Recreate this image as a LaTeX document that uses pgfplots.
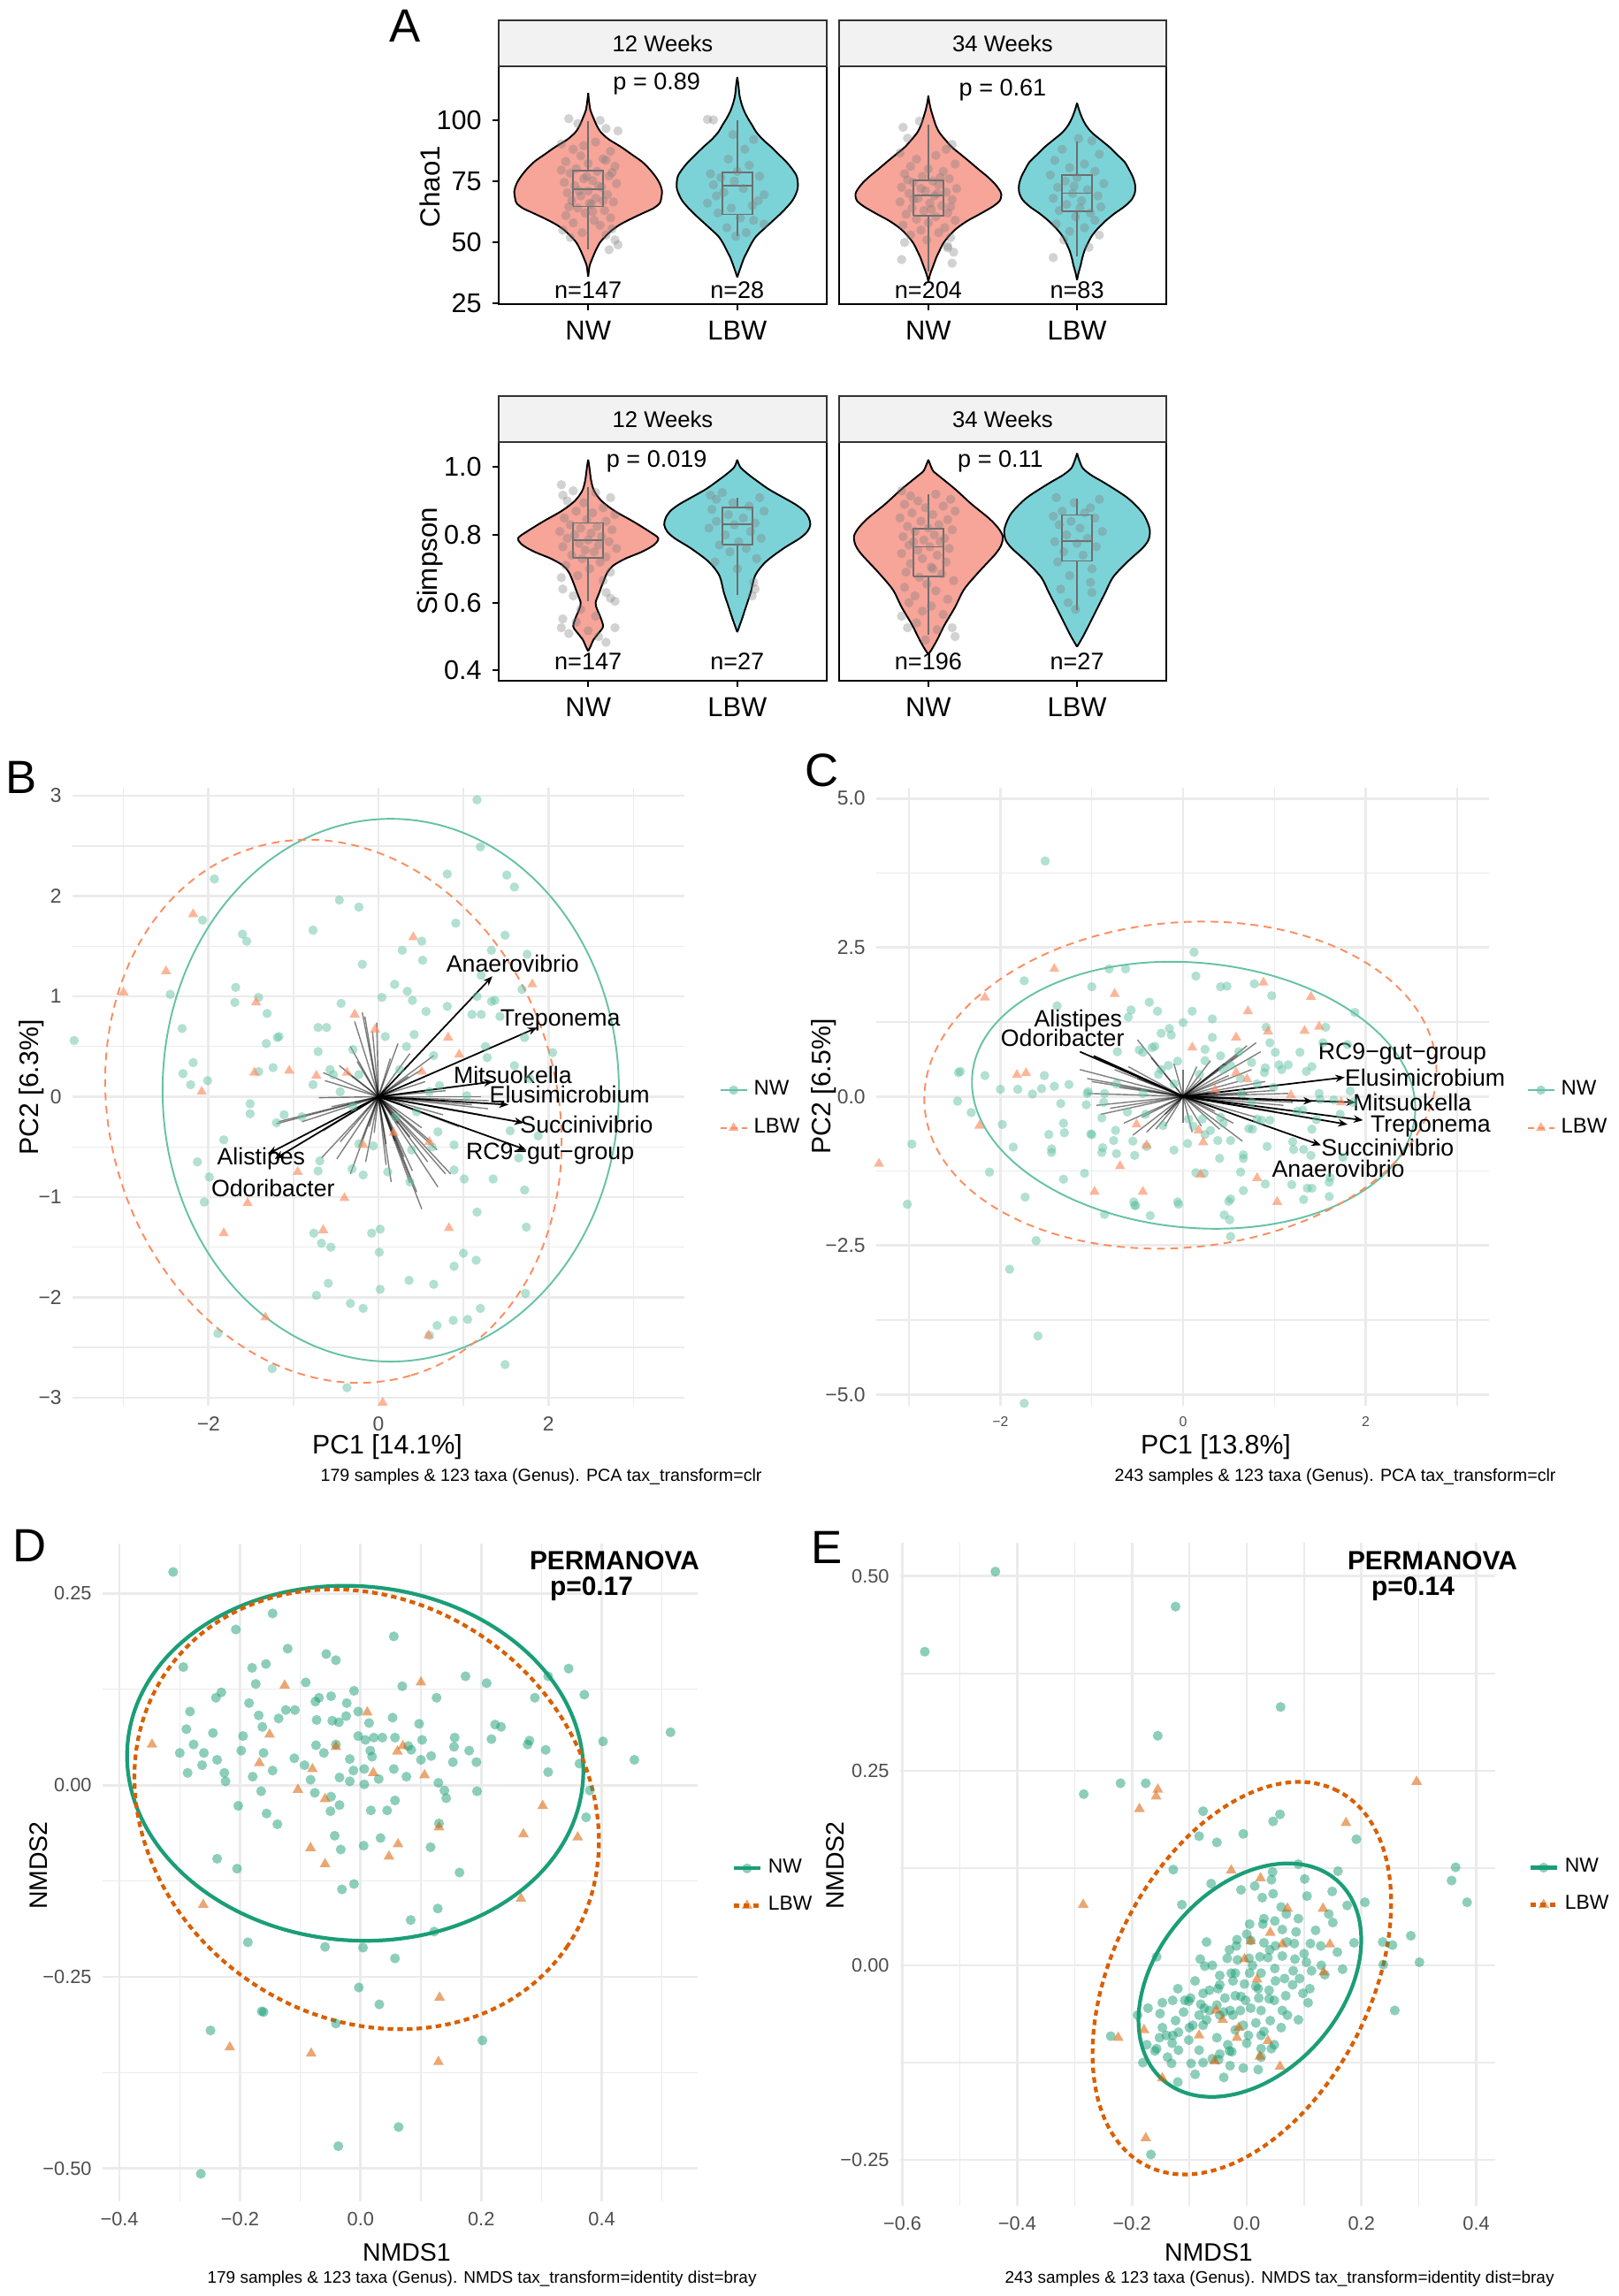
\documentclass[border=0pt]{standalone}
\usepackage{fontspec}
\setmainfont{Liberation Sans}
\usepackage{pgfplots}
\pgfplotsset{compat=1.18}
\usepackage{pgfplotstable}
\usetikzlibrary{arrows.meta}
\newcommand{\fs}[1]{\fontsize{#1}{#1}\selectfont}
\definecolor{nwfill}{RGB}{247,164,153}
\definecolor{lbwfill}{RGB}{124,211,215}
\definecolor{jit}{RGB}{125,125,125}
\definecolor{boxc}{RGB}{110,110,110}
\definecolor{stripc}{RGB}{242,242,242}
\definecolor{sgreen}{HTML}{66C2A5}
\definecolor{sorange}{HTML}{FC8D62}
\definecolor{dgreen}{HTML}{1B9E77}
\definecolor{dorange}{HTML}{D95F02}
\definecolor{gridc}{HTML}{EBEBEB}
\definecolor{tickc}{HTML}{4D4D4D}
\pgfplotsset{
 vio/.style={scale only axis, clip=false, anchor=south west, width=3.71cm, height=2.69cm,
   axis line style={line width=0.7pt}, tick align=outside, major tick length=0.07cm,
   major tick style={black,line width=0.6pt}, xtick pos=lower, ytick pos=left,
   xmin=0.4, xmax=2.6, xtick={1,2}, xticklabels={NW,LBW},
   xticklabel style={font=\fs{8.8}}, yticklabel style={font=\fs{8.7}},
   /pgf/number format/assume math mode=true},
 sc/.style={scale only axis, clip=false, anchor=south west,
   axis line style={draw=none}, tick style={draw=none}, grid=both,
   major grid style={line width=0.8pt, draw=gridc}, minor grid style={line width=0.4pt, draw=gridc},
   tick label style={text=tickc}, /pgf/number format/assume math mode=true,
   legend style={draw=none, fill=none, inner sep=0pt, anchor=west, row sep=2pt, cells={anchor=west}},
   legend image code/.code={\draw[mark repeat=2,mark phase=2,##1] plot coordinates {(0cm,0cm) (0.15cm,0cm) (0.3cm,0cm)};}},
 jitpt/.style={only marks, mark=*, mark size=1.5pt, mark options={fill=jit, fill opacity=0.35, draw opacity=0}, forget plot},
 bnw/.style={only marks, mark=*, mark size=1.5pt, mark options={fill=sgreen, fill opacity=0.5, draw opacity=0}, forget plot},
 blbw/.style={only marks, mark=triangle*, mark size=1.9pt, mark options={fill=sorange, fill opacity=0.65, draw opacity=0}, forget plot},
 dnw/.style={only marks, mark=*, mark size=1.6pt, mark options={fill=dgreen, fill opacity=0.5, draw opacity=0}, forget plot},
 dlbw/.style={only marks, mark=triangle*, mark size=2.0pt, mark options={fill=dorange, fill opacity=0.55, draw opacity=0}, forget plot},
}
\newcommand{\violin}[3]{%
 \addplot[fill=#3, draw=#3, line width=0.4pt, smooth, forget plot] table[x expr=#1+\thisrow{w}, y=v]{#2};
 \addplot[fill=#3, draw=#3, line width=0.4pt, smooth, forget plot] table[x expr=#1-\thisrow{w}, y=v]{#2};
 \addplot[black, line width=0.55pt, smooth, forget plot] table[x expr=#1+\thisrow{w}, y=v]{#2};
 \addplot[black, line width=0.55pt, smooth, forget plot] table[x expr=#1-\thisrow{w}, y=v]{#2};
}
\newcommand{\bx}[8]{%
 \addplot[boxc, line width=0.5pt, forget plot] coordinates {(#1,#5)(#3,#5)(#3,#7)(#1,#7)(#1,#5)};
 \addplot[boxc, line width=0.5pt, forget plot] coordinates {(#1,#6)(#3,#6)};
 \addplot[boxc, line width=0.5pt, forget plot] coordinates {(#2,#4)(#2,#5)};
 \addplot[boxc, line width=0.5pt, forget plot] coordinates {(#2,#7)(#2,#8)};
}
\newcommand{\strip}[1]{%
 \draw[fill=stripc, draw=black!80, line width=0.7pt] (rel axis cs:0,1) rectangle ([yshift=0.52cm]rel axis cs:1,1);
 \node[font=\fs{7.3}] at ([yshift=0.26cm]rel axis cs:0.5,1) {#1};
}
% confidence ellipse: style, centre x, centre y, x radius, y radius, rotation
\newcommand{\confell}[6]{%
 \draw[#1, rotate around={#6:(axis cs:#2,#3)}] (axis cs:#2,#3) ellipse [x radius=#4, y radius=#5];
}
\begin{document}
\pgfplotstableread{
v w
36 0
38 0.004
40.6 0.01
43 0.025
46.6 0.05
50 0.08
52.7 0.12
55 0.16
57.5 0.22
60 0.30
62 0.37
64 0.44
66 0.48
68 0.49
71 0.495
74 0.48
77 0.45
80 0.41
83 0.36
86 0.29
89 0.22
92 0.14
95 0.085
98 0.055
101 0.034
104 0.015
108 0.005
111 0
}\cNWa
\pgfplotstableread{
v w
35.8 0
38 0.012
40.6 0.027
43.6 0.045
46.6 0.07
49.6 0.095
52.7 0.13
57.5 0.215
62.3 0.30
67.1 0.37
72 0.405
76.7 0.40
79.8 0.37
82.8 0.33
85.8 0.28
88.8 0.23
91.8 0.175
94.8 0.13
97.8 0.10
100.8 0.07
103.8 0.045
106.9 0.027
110 0.015
114 0.008
117.5 0
}\cLBWa
\pgfplotstableread{
v w
34 0
37 0.012
40.6 0.034
43.6 0.052
46.6 0.075
49.6 0.10
52.7 0.14
55.7 0.19
58.7 0.26
61.7 0.35
64.7 0.435
67 0.48
69 0.49
70.7 0.485
73.7 0.45
76.7 0.40
79.7 0.34
82.8 0.28
85.8 0.22
88.8 0.16
91.8 0.115
94.8 0.075
97.8 0.05
100.8 0.034
104 0.018
107 0.007
109.9 0
}\cNWb
\pgfplotstableread{
v w
34.6 0
37.6 0.01
40.6 0.024
43.6 0.035
46.6 0.05
49.6 0.072
52.7 0.10
55.7 0.14
58.7 0.19
61.7 0.25
64.7 0.32
67.7 0.37
70.7 0.39
73.7 0.39
76.7 0.375
79.7 0.35
82.8 0.32
85.8 0.27
88.8 0.22
91.8 0.16
94.8 0.10
97.8 0.06
100.8 0.034
104 0.014
106.9 0
}\cLBWb
\pgfplotstableread{
v w
0.457 0
0.47 0.015
0.49 0.035
0.51 0.07
0.53 0.10
0.56 0.08
0.58 0.06
0.60 0.05
0.63 0.075
0.66 0.10
0.69 0.13
0.71 0.17
0.73 0.25
0.75 0.36
0.77 0.44
0.79 0.47
0.81 0.41
0.84 0.30
0.87 0.18
0.90 0.09
0.93 0.04
0.96 0.02
1.0 0.008
1.022 0
}\sNWa
\pgfplotstableread{
v w
0.513 0
0.55 0.03
0.59 0.06
0.63 0.09
0.68 0.12
0.72 0.19
0.76 0.31
0.79 0.42
0.81 0.47
0.83 0.49
0.85 0.48
0.87 0.45
0.89 0.39
0.91 0.31
0.935 0.21
0.96 0.13
0.98 0.07
1.0 0.02
1.022 0
}\sLBWa
\pgfplotstableread{
v w
0.448 0
0.46 0.02
0.491 0.06
0.535 0.11
0.587 0.18
0.639 0.24
0.691 0.34
0.743 0.45
0.77 0.49
0.796 0.50
0.82 0.47
0.848 0.41
0.891 0.29
0.935 0.18
0.978 0.06
0.99 0.03
1.022 0
}\sNWb
\pgfplotstableread{
v w
0.47 0
0.5 0.04
0.543 0.09
0.587 0.14
0.63 0.19
0.674 0.24
0.717 0.33
0.761 0.44
0.785 0.48
0.809 0.49
0.83 0.48
0.865 0.44
0.909 0.34
0.952 0.19
0.975 0.10
0.996 0.04
1.02 0.015
1.041 0
}\sLBWb
\begin{tikzpicture}
\useasboundingbox (0,0) rectangle (18.31,25.97);

% ---------- A: Chao1, 12 weeks
\begin{axis}[vio, at={(5.64cm,22.53cm)}, ymin=24.8, ymax=121.9, ytick={25,50,75,100}, yticklabels={25,50,75,100}]
\violin{1}{\cNWa}{nwfill}
\violin{2}{\cLBWa}{lbwfill}
\addplot[jitpt] coordinates {(0.87,100.5)(0.93,98.5)(1.08,99.8)(1.12,96.5)(1.20,95.5)(0.82,90.2)(0.90,88.0)(1.05,91.0)(1.15,87.2)(0.95,85.3)(1.10,84.1)(0.85,83.0)(1.00,82.2)(1.18,81.0)(0.92,80.1)(1.06,79.0)(0.88,78.2)(1.14,77.1)(0.97,76.0)(1.03,75.2)(0.84,74.5)(1.19,74.0)(0.91,73.1)(1.09,72.5)(1.00,71.0)(0.86,70.2)(1.13,69.5)(0.95,69.0)(1.05,68.0)(0.89,67.1)(1.17,66.5)(1.02,65.5)(0.93,64.0)(1.11,63.0)(0.98,62.0)(0.85,61.0)(1.15,60.0)(1.04,59.0)(0.90,58.0)(1.08,57.0)(0.83,55.0)(1.16,55.5)(0.96,54.0)(1.12,53.0)(1.18,51.0)(1.20,49.0)(1.14,47.0)(0.88,52.0)(1.01,66.0)(0.94,71.0)(1.07,73.0)(0.99,77.0)(1.10,67.0)(0.87,64.5)(1.03,62.5)(1.16,78.5)(0.82,79.5)(1.12,83.5)(0.97,89.5)};
\addplot[jitpt] coordinates {(1.80,100.2)(1.84,100.0)(1.97,94.0)(2.11,92.0)(2.05,88.0)(1.94,84.0)(2.08,81.5)(1.82,78.0)(2.15,77.0)(1.89,76.5)(1.98,75.0)(1.84,73.5)(2.04,72.0)(2.18,69.5)(1.91,70.5)(1.80,66.0)(2.10,65.0)(1.96,64.0)(1.87,62.0)(2.02,60.0)(2.11,59.0)(2.18,57.5)(1.93,56.0)(2.06,54.0)(1.99,52.5)(2.14,67.0)(1.86,69.0)(2.00,79.0)};
\bx{0.9}{1}{1.1}{47}{64.7}{71.6}{79.4}{99.5}
\bx{1.9}{2}{2.1}{52.7}{61.4}{73.1}{78.6}{100}
\strip{12 Weeks}
\node[font=\fs{7.7}] at (axis cs:1.46,114.7) {p = 0.89};
\node[font=\fs{7.7}] at (axis cs:1,30.4) {n=147};
\node[font=\fs{7.7}] at (axis cs:2,30.4) {n=28};
\end{axis}

% ---------- A: Chao1, 34 weeks
\begin{axis}[vio, at={(9.49cm,22.53cm)}, width=3.70cm, ymin=24.8, ymax=121.9, ytick=\empty]
\violin{1}{\cNWb}{nwfill}
\violin{2}{\cLBWb}{lbwfill}
\addplot[jitpt] coordinates {(0.83,97.0)(0.86,92.5)(0.94,99.5)(1.16,90.0)(0.81,86.5)(1.12,88.0)(0.92,84.0)(1.05,85.5)(1.18,82.0)(0.88,81.0)(1.00,80.0)(1.10,79.0)(0.84,78.0)(0.96,77.0)(1.14,76.0)(1.03,75.0)(0.90,74.5)(1.07,73.5)(0.82,72.5)(1.19,72.0)(0.98,71.0)(1.12,70.5)(0.87,70.0)(1.04,69.0)(0.93,68.0)(1.16,67.5)(0.81,66.5)(1.01,66.0)(1.09,65.0)(0.89,64.0)(0.97,63.0)(1.13,62.0)(0.85,61.5)(1.05,60.5)(0.92,59.5)(1.18,59.0)(1.00,58.0)(0.83,57.0)(1.11,56.0)(0.95,55.0)(1.07,54.0)(0.88,53.0)(1.15,52.0)(0.99,51.0)(0.84,50.0)(1.13,48.5)(1.17,46.0)(0.82,43.0)(1.16,41.5)(1.13,47.8)(1.02,63.5)(0.95,72.0)(1.08,76.5)(0.90,67.5)(1.06,70.0)(0.86,75.5)(1.15,64.5)};
\addplot[jitpt] coordinates {(2.01,92.4)(2.10,91.5)(1.90,88.0)(2.15,86.0)(1.85,83.5)(2.05,82.0)(1.95,80.5)(2.12,79.0)(1.82,77.5)(2.00,76.5)(1.92,75.0)(2.18,74.0)(1.87,72.5)(2.07,71.5)(1.97,70.0)(2.14,69.0)(1.84,68.0)(2.03,67.0)(1.93,65.5)(2.16,64.5)(1.88,63.0)(2.09,62.0)(1.99,60.5)(2.12,59.0)(1.86,57.5)(2.05,56.0)(1.95,54.5)(2.15,53.0)(1.91,51.0)(1.84,43.8)(2.08,48.0)(1.98,73.0)(2.02,64.0)};
\bx{0.9}{1}{1.1}{38}{60.8}{69.2}{75.3}{98}
\bx{1.9}{2}{2.1}{44.2}{62.7}{70.1}{77.6}{91.2}
\strip{34 Weeks}
\node[font=\fs{7.7}] at (axis cs:1.50,112.3) {p = 0.61};
\node[font=\fs{7.7}] at (axis cs:1,30.4) {n=204};
\node[font=\fs{7.7}] at (axis cs:2,30.4) {n=83};
\end{axis}

% ---------- A: Simpson, 12 weeks
\begin{axis}[vio, at={(5.64cm,18.27cm)}, height=2.70cm, ymin=0.3695, ymax=1.074, ytick={0.4,0.6,0.8,1.0}, yticklabels={0.4,0.6,0.8,1.0}]
\violin{1}{\sNWa}{nwfill}
\violin{2}{\sLBWa}{lbwfill}
\addplot[jitpt] coordinates {(0.82,0.948)(0.83,0.917)(0.90,0.93)(1.05,0.925)(1.15,0.91)(0.86,0.90)(0.97,0.895)(1.10,0.88)(0.92,0.87)(1.03,0.865)(1.18,0.86)(0.84,0.85)(0.99,0.845)(1.12,0.84)(0.88,0.83)(1.06,0.825)(0.95,0.82)(1.16,0.815)(0.81,0.81)(1.02,0.805)(0.91,0.80)(1.09,0.795)(0.86,0.79)(1.00,0.785)(1.14,0.78)(0.94,0.775)(1.07,0.77)(0.83,0.765)(1.19,0.76)(0.98,0.755)(1.04,0.75)(0.89,0.74)(1.12,0.735)(0.96,0.73)(1.08,0.72)(0.85,0.71)(1.01,0.70)(1.15,0.69)(0.82,0.674)(0.93,0.68)(1.10,0.665)(0.83,0.64)(1.12,0.63)(1.15,0.613)(1.18,0.604)(0.90,0.62)(0.83,0.552)(0.82,0.526)(0.87,0.509)(0.92,0.543)(1.18,0.526)(1.12,0.483)(1.00,0.517)(1.05,0.56)(0.95,0.58)(1.07,0.50)};
\addplot[jitpt] coordinates {(1.82,0.917)(1.90,0.925)(1.86,0.905)(2.15,0.91)(1.97,0.895)(2.08,0.885)(1.83,0.875)(2.18,0.87)(1.94,0.86)(2.04,0.85)(1.86,0.84)(2.12,0.835)(1.98,0.83)(1.81,0.82)(2.09,0.81)(1.92,0.80)(2.16,0.79)(2.01,0.78)(1.88,0.77)(2.06,0.76)(1.95,0.75)(2.13,0.73)(1.85,0.72)(2.00,0.70)(2.11,0.66)(2.12,0.64)(2.10,0.62)};
\bx{0.9}{1}{1.1}{0.604}{0.732}{0.785}{0.835}{0.94}
\bx{1.9}{2}{2.1}{0.622}{0.771}{0.832}{0.881}{0.909}
\strip{12 Weeks}
\node[font=\fs{7.7}] at (axis cs:1.46,1.017) {p = 0.019};
\node[font=\fs{7.7}] at (axis cs:1,0.426) {n=147};
\node[font=\fs{7.7}] at (axis cs:2,0.426) {n=27};
\end{axis}

% ---------- A: Simpson, 34 weeks
\begin{axis}[vio, at={(9.49cm,18.27cm)}, width=3.70cm, height=2.70cm, ymin=0.3695, ymax=1.074, ytick=\empty]
\violin{1}{\sNWb}{nwfill}
\violin{2}{\sLBWb}{lbwfill}
\addplot[jitpt] coordinates {(0.82,0.93)(0.88,0.915)(1.05,0.92)(1.15,0.905)(0.93,0.90)(0.84,0.89)(1.10,0.885)(0.98,0.88)(1.18,0.87)(0.89,0.865)(1.03,0.86)(0.81,0.85)(1.13,0.845)(0.95,0.84)(1.07,0.83)(0.86,0.825)(1.00,0.82)(1.16,0.815)(0.91,0.81)(1.04,0.80)(0.83,0.795)(1.11,0.79)(0.97,0.785)(1.08,0.78)(0.87,0.77)(1.01,0.765)(1.14,0.76)(0.93,0.755)(0.82,0.745)(1.06,0.74)(0.96,0.73)(1.12,0.72)(0.88,0.715)(1.02,0.705)(0.85,0.69)(1.09,0.685)(0.94,0.675)(1.17,0.665)(0.99,0.655)(0.84,0.645)(1.05,0.635)(0.91,0.62)(1.13,0.61)(0.87,0.60)(1.02,0.59)(0.96,0.575)(1.10,0.565)(0.82,0.56)(0.86,0.526)(1.18,0.50)(1.16,0.526)(0.92,0.54)(1.06,0.52)(0.98,0.49)(1.03,0.70)(0.90,0.78)};
\addplot[jitpt] coordinates {(1.86,0.91)(2.15,0.905)(1.98,0.895)(2.09,0.88)(1.90,0.87)(2.05,0.865)(1.84,0.855)(2.12,0.85)(1.96,0.84)(1.88,0.83)(2.02,0.82)(2.17,0.81)(1.93,0.80)(2.07,0.79)(1.85,0.78)(2.00,0.775)(2.13,0.765)(1.91,0.75)(2.04,0.74)(1.87,0.72)(2.10,0.70)(1.95,0.68)(2.09,0.66)(1.89,0.64)(2.10,0.63)(1.94,0.60)(1.99,0.58)};
\bx{0.9}{1}{1.1}{0.504}{0.677}{0.765}{0.819}{0.92}
\bx{1.9}{2}{2.1}{0.578}{0.723}{0.782}{0.859}{0.907}
\strip{34 Weeks}
\node[font=\fs{7.7}] at (axis cs:1.485,1.017) {p = 0.11};
\node[font=\fs{7.7}] at (axis cs:1,0.426) {n=196};
\node[font=\fs{7.7}] at (axis cs:2,0.426) {n=27};
\end{axis}

% ---------- B
\begin{axis}[sc, at={(0.82cm,10.07cm)}, width=6.92cm, height=6.99cm,
  xmin=-3.6, xmax=3.6, ymin=-3.08, ymax=3.08,
  xtick={-2,0,2}, xticklabels={−2,0,2}, minor xtick={-3,-1,1,3},
  ytick={-3,-2,-1,0,1,2,3}, yticklabels={−3,−2,−1,0,1,2,3}, minor ytick={-2.5,-1.5,-0.5,0.5,1.5,2.5},
  tick label style={font=\fs{6.5}},
  legend style={at={(1,0.48)}, xshift=0.39cm, font=\fs{6.8}}]
\addplot[bnw] coordinates {(1.16,2.96)(1.20,2.49)(0.81,2.22)(1.51,2.21)(1.60,2.09)(-1.93,2.17)(-0.46,1.96)(-0.23,1.89)(-2.07,1.76)(-0.77,1.66)(0.91,1.73)(1.49,1.61)(-1.60,1.62)(-1.55,1.55)(0.51,1.55)(0.28,1.46)(1.33,1.46)(1.75,1.42)(0.52,1.36)(-0.19,1.32)(1.21,1.21)(1.69,1.07)(0.19,1.12)(0.34,1.05)(-1.68,1.09)(-2.45,1.02)(-1.41,0.99)(0.04,0.99)(0.40,0.96)(1.16,1.00)(1.33,0.95)(1.37,0.96)(-1.69,0.94)(-0.44,0.93)(-1.31,0.83)(0.56,0.85)(0.81,0.90)(1.10,0.82)(1.21,0.82)(1.43,0.80)(-2.31,0.68)(-0.71,0.69)(-0.61,0.69)(-1.19,0.59)(-1.17,0.60)(-1.32,0.53)(0.08,0.60)(0.42,0.62)(1.26,0.50)(1.72,0.59)(2.05,0.44)(-0.30,0.47)(0.33,0.50)(-0.71,0.45)(0.65,0.41)(1.28,0.39)(-3.58,0.56)(-2.18,0.34)(-2.30,0.23)(-2.21,0.12)(-2.01,0.16)(-1.41,0.25)(-1.24,0.29)(-0.57,0.27)(-0.53,0.22)(-0.23,0.22)(-0.77,0.12)(0.25,0.27)(1.60,0.31)(1.78,0.18)(0.72,0.11)(1.04,0.01)(-1.51,-0.07)(-1.51,-0.17)(-1.20,-0.26)(-1.11,-0.18)(-1.82,-0.43)(-2.13,-0.65)(-1.99,-0.80)(-2.05,-1.05)(-0.69,-0.64)(-0.71,-0.74)(-0.31,-0.72)(-0.18,-0.78)(-0.23,-0.47)(-0.06,-0.49)(0.11,-0.75)(0.39,-0.53)(0.37,-0.85)(0.63,-0.50)(0.89,-0.48)(0.89,-0.73)(1.01,-0.82)(1.35,-0.82)(1.55,-0.34)(1.88,-0.39)(1.65,-0.61)(1.72,-0.93)(1.16,-1.15)(1.74,-1.30)(0.02,-1.32)(-0.08,-1.36)(-0.76,-1.36)(-0.67,-1.46)(-0.56,-1.50)(0.01,-1.55)(1.00,-1.56)(1.15,-1.63)(0.89,-1.69)(0.36,-1.83)(0.65,-1.87)(-0.59,-1.86)(0.02,-1.92)(-0.73,-1.98)(-0.33,-2.06)(-0.18,-2.11)(1.73,-1.96)(1.20,-2.11)(0.88,-2.23)(1.05,-2.22)(0.69,-2.28)(0.60,-2.38)(-1.89,-2.36)(-1.25,-2.71)(-0.37,-2.90)(1.49,-2.67)(0.20,-0.20)(0.45,-0.15)(-0.30,-0.10)(0.70,-0.35)(-0.90,-0.20)(-0.45,0.05)(0.60,0.05)};
\addplot[blbw] coordinates {(-2.18,1.82)(-2.50,1.25)(-3.00,1.04)(-1.44,0.94)(-2.08,0.05)(-1.46,0.24)(-1.05,0.26)(-0.73,0.21)(-0.37,0.24)(-0.28,0.82)(-0.04,0.67)(0.41,1.59)(0.82,0.59)(0.95,0.42)(0.51,0.25)(1.81,1.12)(0.18,-0.36)(-0.18,-0.48)(0.60,-0.45)(-0.95,-0.75)(-0.40,-1.01)(-1.54,-1.06)(-1.82,-1.36)(-0.65,-1.33)(0.83,-1.31)(-1.33,-2.20)(0.59,-2.38)(0.05,-3.05)};
\confell{sgreen, line width=0.55pt}{0.145}{0.065}{2.685}{2.705}{0}
\confell{sorange, line width=0.55pt, dash pattern=on 2.5pt off 1.8pt}{-0.53}{-0.145}{3.24}{2.229}{-73.6}
\addplot[black, opacity=0.5, line width=0.4pt, forget plot, quiver={u=\thisrow{u}, v=\thisrow{v}}] table {
x y u v
0 0 -0.19 0.84
0 0 -0.28 0.75
0 0 -0.16 0.80
0 0 -0.07 0.65
0 0 -0.02 0.74
0 0 -0.33 0.50
0 0 -0.46 0.31
0 0 -0.65 0.24
0 0 -0.63 0.16
0 0 -0.37 0.24
0 0 -0.70 -0.01
0 0 -1.20 -0.27
0 0 -1.18 -0.25
0 0 -0.65 -0.34
0 0 -0.67 -0.61
0 0 -0.49 -0.62
0 0 -0.33 -0.77
0 0 -0.23 -0.50
0 0 -0.11 -0.30
0 0 0.09 -0.47
0 0 0.19 -0.44
0 0 0.37 -0.86
0 0 0.51 -1.12
0 0 0.40 -0.74
0 0 0.58 -0.65
0 0 0.79 -0.77
0 0 0.85 -0.77
0 0 0.69 -0.53
0 0 0.37 -0.40
0 0 0.51 -0.31
0 0 1.29 -0.12
0 0 1.21 -0.18
0 0 1.30 -0.04
0 0 1.21 0.00
0 0 0.79 0.06
0 0 0.65 0.41
0 0 0.37 0.43
0 0 0.23 0.53
0 0 0.51 0.27
0 0 0.14 0.38
0 0 0.76 -0.18
0 0 1.00 -0.15
0 0 0.23 -0.27
0 0 -0.05 -0.36
0 0 0.09 -0.68
0 0 0.45 -0.95
0 0 0.30 -0.60
0 0 0.62 -0.45
0 0 0.95 -0.30
0 0 1.10 -0.08
0 0 0.90 0.10
0 0 0.35 0.20
0 0 -0.45 -0.45
0 0 -0.55 -0.10
0 0 -0.90 -0.25
0 0 0.15 -0.85
0 0 -0.15 -0.65
0 0 0.70 -0.90
0 0 0.55 0.15
0 0 -0.25 0.35
};
\addplot[black, line width=0.5pt, -{Stealth[length=3pt,width=2.4pt]}, forget plot, quiver={u=\thisrow{u}, v=\thisrow{v}}] table {
x y u v
0 0 1.34 1.20
0 0 1.87 0.69
0 0 1.35 0.15
0 0 1.53 -0.08
0 0 1.71 -0.26
0 0 1.74 -0.53
0 0 -1.30 -0.57
0 0 -1.22 -0.62
};
\node[font=\fs{7.6}] at (axis cs:1.58,1.33) {Anaerovibrio};
\node[font=\fs{7.6}] at (axis cs:2.14,0.76) {Treponema};
\node[font=\fs{7.6}] at (axis cs:1.58,0.22) {Mitsuokella};
\node[font=\fs{7.6}] at (axis cs:2.25,0.02) {Elusimicrobium};
\node[font=\fs{7.6}] at (axis cs:2.45,-0.28) {Succinivibrio};
\node[font=\fs{7.6}] at (axis cs:2.02,-0.57) {RC9−gut−group};
\node[font=\fs{7.6}] at (axis cs:-1.38,-0.62) {Alistipes};
\node[font=\fs{7.6}] at (axis cs:-1.24,-0.91) {Odoribacter};
\addlegendimage{sgreen, line width=0.55pt, mark=*, mark size=1.5pt, mark options={solid, fill=sgreen, fill opacity=0.6, draw opacity=0}}
\addlegendentry{NW}
\addlegendimage{sorange, line width=0.55pt, dash pattern=on 2pt off 1.5pt, mark=triangle*, mark size=1.9pt, mark options={solid, fill=sorange, fill opacity=0.7, draw opacity=0}}
\addlegendentry{LBW}
\end{axis}

% ---------- C
\begin{axis}[sc, at={(9.91cm,10.07cm)}, width=6.93cm, height=6.99cm,
  xmin=-3.36, xmax=3.35, ymin=-5.19, ymax=5.18,
  xtick={-2,0,2}, xticklabels={−2,0,2}, minor xtick={-3,-1,1,3},
  ytick={-5,-2.5,0,2.5,5}, yticklabels={−5.0,−2.5,0.0,2.5,5.0}, minor ytick={-3.75,-1.25,1.25,3.75},
  xticklabel style={font=\fs{4.5}}, yticklabel style={font=\fs{6.5}},
  legend style={at={(1,0.48)}, xshift=0.42cm, font=\fs{6.8}}]
\addplot[bnw] coordinates {(-1.51,3.95)(0.12,2.42)(-0.81,2.14)(-0.63,2.14)(-1.74,1.94)(0.14,2.02)(-1.00,1.84)(0.41,1.84)(0.48,1.85)(0.78,1.89)(0.97,1.69)(-1.38,1.52)(-0.37,1.58)(-0.57,1.45)(-0.60,1.33)(-0.28,1.43)(0.10,1.43)(1.88,1.41)(0.00,1.24)(0.32,1.30)(1.56,1.16)(0.91,1.16)(-0.24,1.06)(-0.13,1.03)(0.32,0.99)(0.95,0.90)(1.53,0.90)(1.80,0.87)(-0.72,0.75)(-0.48,0.78)(-0.34,0.82)(1.01,0.74)(0.75,0.57)(0.90,0.48)(1.05,0.53)(1.15,0.53)(1.35,0.42)(-2.46,0.40)(-2.44,0.42)(-2.17,0.35)(-1.52,0.35)(-2.00,0.12)(-1.81,0.12)(-1.65,0.04)(-1.55,0.13)(-1.04,0.08)(-2.47,-0.08)(-2.32,-0.27)(-1.98,-0.47)(-1.34,-0.12)(-1.06,-0.14)(-0.89,-0.36)(-1.30,-0.61)(-1.01,-0.63)(-0.74,-0.57)(-0.55,-0.75)(-0.88,-0.86)(-0.73,-0.96)(-1.44,-0.88)(-1.86,-0.85)(-2.12,-1.27)(-2.97,-0.80)(-3.02,-1.81)(-1.73,-1.69)(-1.61,-2.42)(-1.90,-2.90)(-1.59,-4.02)(-1.74,-5.15)(-0.54,-1.77)(-0.52,-1.83)(-0.36,-2.00)(-0.06,-1.77)(-0.10,-0.90)(0.14,-1.28)(0.23,-1.29)(0.06,-0.38)(0.21,-0.38)(0.30,-0.57)(0.41,-0.35)(0.38,-0.74)(0.52,-0.74)(0.66,-0.98)(0.72,-0.54)(0.81,-0.38)(0.86,-0.40)(0.63,-1.27)(0.90,-1.47)(0.66,-1.58)(0.52,-1.72)(0.45,-1.99)(0.51,-2.07)(0.52,-2.35)(1.19,-1.48)(1.32,-1.73)(1.36,-1.54)(1.32,-0.89)(1.40,-0.99)(1.20,-0.76)(1.46,-0.39)(1.31,-0.23)(1.61,-1.36)(1.60,-1.68)(1.75,-1.02)(1.49,0.05)(1.65,-0.06)(1.83,0.09)(1.86,-0.10)(1.72,-0.30)(-0.44,0.05)(-0.27,0.37)(-0.16,0.52)(-0.10,0.21)(0.18,0.37)(0.24,0.60)(0.41,0.68)(0.52,0.52)(0.61,0.75)(-0.73,0.21)(-0.61,-0.26)(-0.22,-0.49)(-0.41,-0.30)(0.64,0.05)(0.81,0.21)(0.75,-0.10)(-1.25,0.20)(-1.41,0.17)(-1.05,0.05)(-0.87,-0.10)(-0.86,0.05)(-1.00,-0.64)(-0.89,-0.94)(-0.76,-0.74)(-0.53,-0.99)(-0.40,-0.84)(-1.47,-0.64)(-1.44,-0.94)(-1.31,-0.45)(-0.15,1.14)(-0.31,0.84)(-0.44,0.74)(-0.24,0.45)(-0.06,0.59)(0.24,0.79)(0.44,0.45)(0.63,0.30)(0.89,0.40)(0.99,0.15)(1.08,0.45)(1.28,0.74)(1.41,0.50)(1.50,-0.05)(1.25,-0.25)(0.95,-0.40)(0.76,-0.55)(0.44,-0.45)(0.11,-0.50)(0.24,-0.64)(0.05,-0.79)(0.40,-1.04)(0.66,-1.04)(0.92,-0.84)(1.21,-0.89)(1.41,-0.55)(1.60,-1.44)(1.41,-1.54)(0.50,-1.76)(-0.05,-1.81)(-0.53,-1.83)(-0.86,-1.98)(-1.08,-1.29)(-1.31,-1.39)};
\addplot[blbw] coordinates {(-1.41,2.14)(-2.17,1.66)(-0.75,1.72)(0.88,1.91)(1.40,1.67)(0.71,1.43)(1.33,1.10)(1.49,1.17)(0.58,0.99)(0.10,0.82)(0.93,1.09)(-1.82,0.36)(-1.72,0.39)(-2.23,-0.49)(-3.33,-1.13)(0.58,0.40)(0.70,0.29)(0.35,0.11)(1.18,0.02)(1.73,-0.10)(-0.51,-0.47)(0.17,-0.57)(-0.40,-0.82)(0.22,-0.77)(-0.69,-1.17)(0.19,-1.31)(0.81,-1.37)(-0.97,-1.60)(-0.44,-1.60)(1.03,-1.77)};
\confell{sgreen, line width=0.55pt}{0.115}{0.02}{2.434}{2.223}{-5.3}
\confell{sorange, line width=0.55pt, dash pattern=on 2.5pt off 1.8pt}{-0.03}{0.19}{2.811}{2.727}{5.25}
\addplot[black, opacity=0.5, line width=0.4pt, forget plot, quiver={u=\thisrow{u}, v=\thisrow{v}}] table {
x y u v
0 0 -1.13 0.45
0 0 -1.05 0.30
0 0 -1.00 0.25
0 0 -1.05 0.05
0 0 -0.95 -0.15
0 0 -0.90 -0.30
0 0 -0.65 -0.45
0 0 -0.55 -0.65
0 0 -0.40 -0.60
0 0 -0.30 -0.55
0 0 -0.20 -0.50
0 0 0.00 -0.45
0 0 0.20 -0.50
0 0 0.40 -0.55
0 0 0.65 -0.75
0 0 0.55 -0.45
0 0 0.80 -0.35
0 0 1.00 -0.25
0 0 1.20 -0.10
0 0 1.15 0.05
0 0 1.00 0.10
0 0 0.90 0.25
0 0 0.75 0.45
0 0 0.85 0.75
0 0 0.80 0.90
0 0 0.70 0.85
0 0 0.60 0.70
0 0 0.45 0.55
0 0 0.30 0.60
0 0 0.15 0.50
0 0 0.00 0.45
0 0 -0.10 0.55
0 0 -0.50 0.95
0 0 -0.35 0.65
0 0 -0.60 0.50
0 0 -0.75 0.45
0 0 -0.50 0.30
0 0 -0.30 0.20
0 0 0.35 -0.25
0 0 0.60 0.25
0 0 0.50 0.35
0 0 0.20 0.30
0 0 -0.20 -0.30
0 0 0.10 -0.60
0 0 -0.45 -0.35
0 0 -0.80 -0.20
0 0 0.95 -0.05
0 0 0.70 0.05
0 0 -0.70 0.15
0 0 1.10 -0.15
};
\addplot[black, line width=0.5pt, -{Stealth[length=3pt,width=2.4pt]}, forget plot, quiver={u=\thisrow{u}, v=\thisrow{v}}] table {
x y u v
0 0 1.77 0.32
0 0 1.42 -0.08
0 0 1.89 -0.10
0 0 1.97 -0.40
0 0 1.80 -0.47
0 0 1.51 -0.82
};
\addplot[black, line width=0.5pt, forget plot, quiver={u=\thisrow{u}, v=\thisrow{v}}] table {
x y u v
0 0 -1.13 0.75
0 0 -0.98 0.68
};
\node[font=\fs{7.6}] at (axis cs:-1.15,1.27) {Alistipes};
\node[font=\fs{7.6}] at (axis cs:-1.32,0.98) {Odoribacter};
\node[font=\fs{7.6}] at (axis cs:2.40,0.71) {RC9−gut−group};
\node[font=\fs{7.6}] at (axis cs:2.65,0.32) {Elusimicrobium};
\node[font=\fs{7.6}] at (axis cs:2.51,-0.10) {Mitsuokella};
\node[font=\fs{7.6}] at (axis cs:2.71,-0.50) {Treponema};
\node[font=\fs{7.6}] at (axis cs:2.24,-0.86) {Succinivibrio};
\node[font=\fs{7.6}] at (axis cs:1.70,-1.21) {Anaerovibrio};
\addlegendimage{sgreen, line width=0.55pt, mark=*, mark size=1.5pt, mark options={solid, fill=sgreen, fill opacity=0.6, draw opacity=0}}
\addlegendentry{NW}
\addlegendimage{sorange, line width=0.55pt, dash pattern=on 2pt off 1.5pt, mark=triangle*, mark size=1.9pt, mark options={solid, fill=sorange, fill opacity=0.7, draw opacity=0}}
\addlegendentry{LBW}
\end{axis}

% ---------- D
\begin{axis}[sc, at={(1.16cm,1.07cm)}, width=6.73cm, height=7.44cm,
  xmin=-0.428, xmax=0.559, ymin=-0.543, ymax=0.315,
  xtick={-0.4,-0.2,0,0.2,0.4}, xticklabels={−0.4,−0.2,0.0,0.2,0.4}, minor xtick={-0.3,-0.1,0.1,0.3,0.5},
  ytick={-0.5,-0.25,0,0.25}, yticklabels={−0.50,−0.25,0.00,0.25}, minor ytick={-0.375,-0.125,0.125},
  tick label style={font=\fs{6.2}},
  legend style={at={(1,0.478)}, xshift=0.38cm, font=\fs{6.5}}]
\addplot[dnw] coordinates {(-0.311,0.278)(-0.146,0.224)(-0.207,0.203)(0.055,0.194)(-0.121,0.178)(-0.057,0.171)(-0.041,0.163)(-0.294,0.154)(-0.180,0.153)(-0.157,0.158)(0.345,0.152)(0.174,0.142)(0.311,0.142)(-0.174,0.132)(-0.091,0.134)(0.209,0.133)(0.069,0.129)(-0.011,0.123)(-0.231,0.121)(-0.240,0.114)(0.371,0.118)(0.126,0.114)(-0.049,0.116)(-0.069,0.114)(-0.075,0.109)(-0.023,0.107)(-0.185,0.107)(0.289,0.114)(-0.283,0.096)(-0.124,0.098)(-0.109,0.098)(-0.169,0.091)(-0.004,0.096)(-0.136,0.087)(-0.073,0.085)(-0.047,0.084)(-0.036,0.082)(-0.024,0.090)(0.053,0.088)(0.097,0.080)(0.014,0.081)(0.223,0.079)(0.233,0.076)(-0.163,0.076)(-0.289,0.073)(-0.245,0.068)(-0.195,0.064)(-0.004,0.064)(0.008,0.059)(0.022,0.062)(0.036,0.062)(0.057,0.062)(0.102,0.059)(0.156,0.062)(0.217,0.060)(0.280,0.058)(0.402,0.057)(0.514,0.069)(-0.277,0.053)(-0.074,0.052)(-0.041,0.053)(0.079,0.051)(0.084,0.046)(0.155,0.050)(0.277,0.053)(-0.300,0.042)(-0.260,0.042)(-0.198,0.045)(-0.161,0.042)(-0.061,0.042)(0.016,0.045)(0.180,0.045)(0.307,0.046)(-0.018,0.034)(0.019,0.037)(0.117,0.038)(0.100,0.033)(-0.238,0.033)(-0.110,0.035)(0.153,0.030)(0.192,0.030)(0.454,0.033)(0.363,0.028)(-0.263,0.026)(-0.093,0.026)(-0.287,0.016)(-0.226,0.016)(-0.146,0.019)(-0.012,0.019)(0.006,0.021)(0.055,0.021)(0.311,0.017)(-0.179,0.011)(-0.083,0.007)(-0.035,0.010)(-0.018,0.005)(0.030,0.008)(0.076,0.011)(0.006,0.001)(-0.224,0.005)(0.129,0.003)(0.139,-0.007)(0.193,-0.008)(0.380,-0.007)(-0.165,-0.008)(-0.076,-0.010)(-0.049,-0.015)(0.142,-0.017)(-0.203,-0.027)(-0.035,-0.026)(0.057,-0.020)(-0.050,-0.034)(0.017,-0.033)(0.044,-0.033)(-0.156,-0.037)(0.374,-0.042)(-0.138,-0.051)(0.130,-0.050)(-0.043,-0.066)(0.033,-0.069)(-0.033,-0.084)(0.005,-0.079)(0.116,-0.081)(-0.238,-0.096)(-0.205,-0.109)(0.164,-0.114)(-0.011,-0.129)(-0.031,-0.136)(0.128,-0.161)(0.083,-0.176)(0.122,-0.191)(-0.187,-0.205)(-0.059,-0.211)(0.004,-0.212)(0.057,-0.226)(-0.003,-0.264)(0.031,-0.286)(-0.164,-0.295)(-0.161,-0.296)(-0.249,-0.320)(-0.041,-0.311)(0.202,-0.333)(0.063,-0.446)(-0.037,-0.471)(-0.265,-0.507)};
\addplot[dlbw] coordinates {(-0.346,0.053)(-0.126,0.130)(0.100,0.134)(0.011,0.095)(-0.151,0.066)(-0.168,0.029)(-0.041,0.050)(0.061,0.044)(0.070,0.051)(-0.080,0.021)(0.021,0.016)(0.106,0.013)(-0.104,-0.006)(-0.059,-0.018)(0.130,-0.055)(0.302,-0.027)(0.270,-0.064)(0.360,-0.068)(-0.083,-0.082)(0.062,-0.077)(0.047,-0.093)(-0.059,-0.103)(-0.261,-0.156)(0.266,-0.148)(0.131,-0.277)(-0.217,-0.342)(-0.082,-0.350)(0.129,-0.361)};
\confell{dgreen, line width=1.2pt}{-0.009}{0.0285}{0.3789}{0.2310}{-4.8}
\confell{dorange, line width=1.2pt, dash pattern=on 1.8pt off 1.3pt}{0.01}{-0.0315}{0.403}{0.2713}{-34.7}
\addlegendimage{dgreen, line width=1.2pt, mark=*, mark size=1.6pt, mark options={solid, fill=dgreen, fill opacity=0.5, draw opacity=0}}
\addlegendentry{NW}
\addlegendimage{dorange, line width=1.2pt, dash pattern=on 1.8pt off 1.3pt, mark=triangle*, mark size=2.0pt, mark options={solid, fill=dorange, fill opacity=0.55, draw opacity=0}}
\addlegendentry{LBW}
\end{axis}

% ---------- E
\begin{axis}[sc, at={(10.18cm,1.02cm)}, width=6.73cm, height=7.50cm,
  xmin=-0.604, xmax=0.433, ymin=-0.309, ymax=0.543,
  xtick={-0.6,-0.4,-0.2,0,0.2,0.4}, xticklabels={−0.6,−0.4,−0.2,0.0,0.2,0.4}, minor xtick={-0.5,-0.3,-0.1,0.1,0.3},
  ytick={-0.25,0,0.25,0.5}, yticklabels={−0.25,0.00,0.25,0.50}, minor ytick={-0.125,0.125,0.375},
  tick label style={font=\fs{6.2}},
  legend style={at={(1,0.482)}, xshift=0.37cm, font=\fs{6.5}}]
\addplot[dnw] coordinates {(-0.438,0.506)(-0.561,0.403)(-0.124,0.461)(0.059,0.332)(-0.155,0.295)(-0.284,0.220)(-0.220,0.234)(-0.176,0.234)(-0.076,0.198)(0.058,0.194)(0.046,0.185)(-0.083,0.166)(-0.006,0.169)(-0.052,0.158)(0.191,0.162)(-0.128,0.123)(0.364,0.126)(0.357,0.109)(0.384,0.081)(0.159,0.121)(0.101,0.111)(0.043,0.110)(-0.062,0.105)(-0.010,0.097)(0.014,0.102)(0.027,0.087)(0.046,0.092)(0.105,0.089)(0.149,0.095)(0.206,0.081)(0.175,0.077)(-0.113,0.078)(0.143,0.066)(0.069,0.066)(0.049,0.057)(0.028,0.053)(0.005,0.053)(0.086,0.043)(0.062,0.046)(0.286,0.038)(0.237,0.030)(0.254,0.026)(0.187,0.029)(0.158,0.017)(0.129,0.025)(0.111,0.028)(0.083,0.028)(0.050,0.025)(0.030,0.029)(0.007,0.032)(-0.017,0.033)(-0.018,0.025)(-0.070,0.030)(-0.157,0.011)(-0.081,0.008)(-0.073,-0.001)(0.301,0.004)(0.238,0.001)(0.167,-0.005)(0.104,0.004)(0.084,0.008)(0.062,0.012)(0.037,0.010)(0.023,0.011)(0.004,0.009)(-0.016,0.007)(-0.034,0.009)(0.049,-0.004)(0.081,-0.007)(0.113,-0.007)(0.136,-0.012)(0.092,-0.017)(0.066,-0.017)(0.025,-0.010)(0.005,-0.010)(-0.027,-0.010)(-0.047,-0.013)(0.098,-0.036)(0.068,-0.039)(0.039,-0.032)(0.016,-0.027)(-0.004,-0.024)(-0.024,-0.020)(-0.047,-0.025)(-0.065,-0.032)(-0.076,-0.036)(-0.098,-0.042)(-0.108,-0.045)(0.039,-0.043)(0.021,-0.042)(-0.002,-0.045)(-0.020,-0.039)(-0.038,-0.042)(-0.052,-0.051)(-0.074,-0.055)(-0.101,-0.046)(-0.129,-0.045)(-0.147,-0.048)(-0.172,-0.055)(-0.190,-0.064)(-0.151,-0.062)(-0.124,-0.071)(-0.083,-0.064)(-0.065,-0.058)(-0.047,-0.064)(-0.029,-0.058)(-0.011,-0.058)(0.007,-0.055)(0.025,-0.058)(0.048,-0.045)(0.062,-0.058)(0.107,-0.048)(0.071,-0.064)(0.041,-0.071)(0.016,-0.074)(-0.006,-0.077)(-0.024,-0.064)(-0.076,-0.077)(-0.094,-0.077)(-0.119,-0.086)(-0.147,-0.080)(-0.152,-0.093)(-0.174,-0.102)(-0.157,-0.107)(-0.129,-0.090)(-0.101,-0.096)(-0.052,-0.093)(-0.033,-0.102)(-0.020,-0.083)(0.003,-0.090)(0.025,-0.090)(0.258,-0.058)(-0.237,-0.091)(-0.138,-0.118)(-0.119,-0.109)(-0.083,-0.109)(-0.047,-0.114)(-0.026,-0.111)(0.025,-0.107)(0.043,-0.107)(0.048,-0.102)(0.025,-0.118)(-0.029,-0.129)(-0.049,-0.121)(-0.076,-0.125)(-0.097,-0.126)(-0.131,-0.126)(-0.181,-0.125)(-0.006,-0.132)(0.020,-0.134)(-0.040,-0.144)(-0.167,-0.243)(-0.12,-0.03)(-0.09,-0.02)(-0.06,0.0)(-0.03,0.02)(0.0,0.04)(0.03,0.06)(0.06,0.075)(0.09,0.06)(0.12,0.045)(0.15,0.055)(-0.14,-0.09)(-0.11,-0.06)(-0.08,-0.05)(-0.05,-0.03)(-0.02,-0.01)(0.01,0.0)(0.04,0.02)(0.07,0.03)(0.10,0.015)(0.13,0.0)(-0.16,-0.11)(-0.13,-0.10)(-0.10,-0.08)(-0.07,-0.07)(-0.04,-0.06)(-0.01,-0.04)(0.02,-0.03)(0.05,-0.02)(0.08,-0.025)(0.11,-0.03)(-0.09,-0.14)(-0.06,-0.12)(-0.03,-0.11)(0.0,-0.10)(0.03,-0.085)(0.06,-0.08)(0.09,-0.07)(-0.12,-0.15)(0.045,0.12)(0.09,0.13)};
\addplot[dlbw] coordinates {(0.296,0.236)(-0.155,0.226)(-0.158,0.217)(-0.187,0.201)(0.173,0.183)(-0.285,0.078)(-0.027,0.122)(0.024,0.112)(0.071,0.073)(0.133,0.073)(0.041,0.042)(0.007,0.031)(0.062,0.027)(0.145,0.027)(-0.004,0.008)(0.134,-0.009)(0.018,-0.018)(-0.053,-0.058)(-0.042,-0.070)(-0.014,-0.080)(-0.179,-0.083)(-0.224,-0.093)(-0.083,-0.090)(-0.017,-0.093)(0.037,-0.097)(-0.056,-0.123)(0.023,-0.117)(0.058,-0.130)(-0.147,-0.145)(-0.176,-0.222)};
\confell{dgreen, line width=1.2pt}{0.0055}{-0.019}{0.2307}{0.1185}{48.9}
\confell{dorange, line width=1.2pt, dash pattern=on 1.8pt off 1.3pt}{-0.0085}{-0.0165}{0.3667}{0.1652}{62.9}
\addlegendimage{dgreen, line width=1.2pt, mark=*, mark size=1.6pt, mark options={solid, fill=dgreen, fill opacity=0.5, draw opacity=0}}
\addlegendentry{NW}
\addlegendimage{dorange, line width=1.2pt, dash pattern=on 1.8pt off 1.3pt, mark=triangle*, mark size=2.0pt, mark options={solid, fill=dorange, fill opacity=0.55, draw opacity=0}}
\addlegendentry{LBW}
\end{axis}

% ---------- free text
\node[font=\fs{15}] at (4.58,25.68) {A};
\node[font=\fs{15}] at (0.24,17.18) {B};
\node[font=\fs{15}] at (9.30,17.26) {C};
\node[font=\fs{15}] at (0.34,8.49) {D};
\node[font=\fs{15}] at (9.35,8.47) {E};
\node[font=\fs{8.9}, rotate=90] at (4.86,23.86) {Chao1};
\node[font=\fs{8.9}, rotate=90] at (4.86,19.62) {Simpson};
\node[font=\fs{8.6}] at (4.38,9.60) {PC1 [14.1\%]};
\node[font=\fs{8.6}, rotate=90] at (0.36,13.67) {PC2 [6.3\%]};
\node[font=\fs{5.6}, anchor=east] at (8.74,9.27) {179 samples \& 123 taxa (Genus). PCA tax\_transform=clr};
\node[font=\fs{8.6}] at (13.75,9.60) {PC1 [13.8\%]};
\node[font=\fs{8.6}, rotate=90] at (9.32,13.68) {PC2 [6.5\%]};
\node[font=\fs{5.6}, anchor=east] at (17.72,9.27) {243 samples \& 123 taxa (Genus). PCA tax\_transform=clr};
\node[font=\fs{8.1}] at (4.60,0.49) {NMDS1};
\node[font=\fs{8.1}, rotate=90] at (0.44,4.87) {NMDS2};
\node[font=\fs{5.4}, anchor=east] at (8.68,0.19) {179 samples \& 123 taxa (Genus). NMDS tax\_transform=identity dist=bray};
\node[font=\fs{8.5}\bfseries] at (6.95,8.32) {PERMANOVA};
\node[font=\fs{8.5}\bfseries] at (6.69,8.00) {p=0.17};
\node[font=\fs{8.1}] at (13.67,0.49) {NMDS1};
\node[font=\fs{8.1}, rotate=90] at (9.45,4.87) {NMDS2};
\node[font=\fs{5.4}, anchor=east] at (17.70,0.19) {243 samples \& 123 taxa (Genus). NMDS tax\_transform=identity dist=bray};
\node[font=\fs{8.5}\bfseries] at (16.20,8.32) {PERMANOVA};
\node[font=\fs{8.5}\bfseries] at (15.98,8.00) {p=0.14};
\end{tikzpicture}
\end{document}
